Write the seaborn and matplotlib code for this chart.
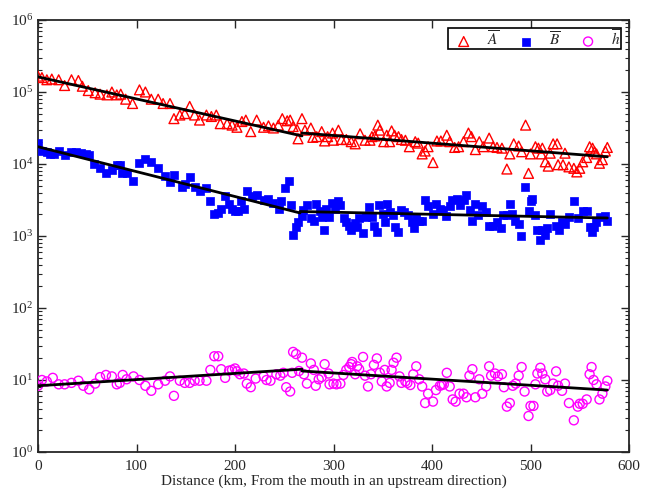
import numpy as np
import pandas as pd
import matplotlib
matplotlib.use("Agg")
import matplotlib.pyplot as plt
import seaborn as sns
from matplotlib.ticker import LogLocator, MultipleLocator, NullFormatter

# ---- data (distance in km, values given as log10) ----
A_km = [0,4,9,14,21,27,34,41,45,51,58,63,70,75,80,84,89,96,103,109,115,122,127,134,138,144,149,154,159,164,
        171,176,181,185,192,197,202,207,211,216,222,229,234,239,244,248,253,256,259,263,264,268,271,277,279,
        283,288,291,294,299,300,305,308,313,318,322,327,332,337,339,342,345,347,351,354,357,359,362,366,369,
        373,377,383,386,390,393,396,401,405,409,415,418,423,427,432,437,440,444,448,452,458,462,466,471,476,
        479,483,488,491,495,498,500,505,508,511,512,515,518,520,523,527,528,533,535,539,544,547,550,553,557,
        560,563,565,567,570,573,576,578]
A_log10 = [5.22,5.20,5.17,5.18,5.17,5.09,5.17,5.16,5.08,5.02,4.99,4.97,4.96,5.00,4.96,4.97,4.90,4.84,5.03,5.00,
           4.90,4.90,4.84,4.84,4.63,4.68,4.70,4.80,4.68,4.61,4.68,4.66,4.68,4.56,4.56,4.54,4.51,4.59,4.61,4.45,
           4.61,4.51,4.53,4.50,4.54,4.63,4.60,4.61,4.52,4.48,4.35,4.63,4.47,4.50,4.37,4.38,4.45,4.32,4.38,4.43,
           4.33,4.47,4.34,4.34,4.31,4.28,4.42,4.33,4.33,4.38,4.39,4.54,4.47,4.31,4.40,4.31,4.46,4.40,4.38,4.34,
           4.33,4.24,4.31,4.29,4.14,4.18,4.24,4.02,4.32,4.32,4.40,4.31,4.23,4.24,4.31,4.43,4.38,4.20,4.31,4.24,
           4.36,4.24,4.23,4.22,3.93,4.14,4.28,4.25,4.17,4.54,3.87,4.14,4.24,4.22,4.14,4.22,4.03,3.97,4.15,4.28,
           4.28,3.99,3.99,4.15,3.96,3.94,3.89,3.94,4.03,4.09,4.24,4.22,4.17,4.14,4.01,4.06,4.18,4.23]

B_km = [0,4,9,12,16,21,27,34,39,44,49,52,57,63,69,75,80,83,85,90,96,103,109,115,122,129,134,138,146,149,154,
        159,164,171,175,179,183,186,190,194,197,200,203,206,209,212,217,222,229,234,239,245,247,251,255,257,
        259,262,264,268,269,273,277,280,282,286,288,290,292,295,298,302,305,307,311,313,316,318,322,324,326,
        330,333,336,339,341,344,346,350,352,354,357,360,362,365,369,372,376,380,382,384,387,390,393,396,401,
        404,408,411,414,418,420,425,428,432,435,439,441,444,447,451,455,458,462,466,470,472,476,479,481,484,
        488,490,494,498,500,502,505,507,510,512,515,517,520,526,529,532,535,539,544,548,553,557,560,562,564,
        567,571,576,578]
B_log10 = [4.29,4.18,4.16,4.14,4.14,4.18,4.13,4.17,4.16,4.15,4.14,4.13,4.00,3.94,3.88,3.92,3.99,3.99,3.88,3.88,
           3.77,4.02,4.07,4.03,3.94,3.83,3.75,3.85,3.68,3.72,3.82,3.68,3.62,3.66,3.48,3.31,3.32,3.38,3.55,3.45,
           3.38,3.35,3.35,3.49,3.37,3.63,3.55,3.57,3.50,3.51,3.46,3.38,3.49,3.66,3.76,3.43,3.01,3.13,3.20,3.28,
           3.36,3.43,3.25,3.21,3.45,3.35,3.27,3.08,3.38,3.27,3.46,3.38,3.48,3.43,3.25,3.20,3.14,3.08,3.18,3.13,
           3.25,3.04,3.27,3.40,3.27,3.14,3.05,3.43,3.31,3.20,3.45,3.33,3.29,3.12,3.06,3.36,3.34,3.29,3.20,3.11,
           3.27,3.21,3.21,3.50,3.41,3.31,3.44,3.38,3.36,3.28,3.42,3.50,3.52,3.43,3.50,3.57,3.36,3.21,3.45,3.29,
           3.42,3.34,3.14,3.14,3.20,3.11,3.29,3.29,3.45,3.31,3.21,3.17,3.00,3.68,3.35,3.48,3.51,3.29,3.09,2.95,
           3.09,3.01,3.11,3.31,3.14,3.08,3.20,3.17,3.27,3.48,3.25,3.35,3.35,3.13,3.06,3.13,3.20,3.27,3.28,3.21]

h_km = [0,4,9,15,21,27,34,41,46,52,58,63,69,75,80,83,86,90,97,103,109,115,122,129,134,138,144,149,154,159,164,
        171,175,179,183,186,190,194,197,200,202,205,209,212,216,221,229,232,236,242,246,249,252,256,258,259,
        262,265,268,270,273,277,280,282,285,288,291,295,296,300,303,307,310,313,316,318,319,322,324,326,330,
        332,335,338,341,344,347,349,352,354,357,359,361,364,367,369,373,375,378,381,384,387,390,393,396,401,
        404,408,410,412,415,418,421,424,428,432,435,438,441,444,448,451,455,458,460,464,467,471,473,476,479,
        482,485,488,491,494,498,500,503,505,507,510,512,515,517,520,523,526,528,532,535,539,544,548,550,553,
        557,560,562,564,567,570,573,576,578]
h_log10 = [0.92,1.00,0.98,1.03,0.94,0.94,0.96,0.99,0.92,0.87,0.95,1.04,1.07,1.05,0.94,0.96,1.07,1.01,1.05,1.00,
           0.92,0.85,0.94,0.99,1.05,0.78,0.99,0.96,0.96,0.99,0.99,0.99,1.14,1.33,1.33,1.15,1.03,1.13,1.14,1.16,
           1.12,1.08,1.09,0.95,0.90,1.02,1.05,1.00,0.99,1.08,1.06,1.10,0.90,0.84,1.10,1.39,1.36,1.125,1.31,1.08,
           0.95,1.23,1.14,0.92,1.01,1.04,1.22,1.09,0.94,0.95,0.94,0.95,1.07,1.14,1.18,1.22,1.25,1.08,1.19,1.15,
           1.32,1.06,0.91,1.08,1.21,1.30,1.10,0.98,1.14,0.91,0.96,1.14,1.24,1.31,1.05,0.96,0.98,0.96,0.93,1.08,
           1.19,1.01,0.91,0.68,0.81,0.70,0.86,0.92,0.93,0.94,1.10,0.91,0.73,0.70,0.81,0.81,0.76,1.06,1.15,0.76,
           1.01,0.81,0.91,1.19,1.06,1.09,1.05,1.08,0.90,0.63,0.68,0.92,0.95,1.06,1.18,0.84,0.50,0.64,0.64,0.94,
           1.09,1.17,1.09,1.01,0.84,0.86,0.95,1.12,0.92,0.85,0.95,0.68,0.44,0.63,0.67,0.67,0.73,1.08,1.18,1.00,
           0.94,0.73,0.81,0.91,0.99]

# piecewise fitted trend lines (segment endpoints)
fit_A = [([0, 268], [5.21, 4.39]), ([268, 578], [4.43, 4.10])]
fit_B = [([0, 266], [4.24, 3.32]), ([266, 578], [3.34, 3.25])]
fit_h = [([0, 268], [0.92, 1.15]), ([268, 578], [1.125, 0.86])]

labels = [r"$\overline{A}$", r"$\overline{B}$", r"$\overline{h}$"]

# ---- build tables ----
dfA = pd.DataFrame({"km": A_km, "val": 10 ** np.array(A_log10)})
dfB = pd.DataFrame({"km": B_km, "val": 10 ** np.array(B_log10)})
dfh = pd.DataFrame({"km": h_km, "val": 10 ** np.array(h_log10)})

sns.set_style("ticks")
plt.rcParams["font.family"] = ["Liberation Serif", "DejaVu Serif"]
plt.rcParams["mathtext.fontset"] = "stix"

fig = plt.figure(figsize=(6.53, 4.91), dpi=100)
ax = fig.add_axes([38 / 653, 1 - 452 / 491, (629 - 38) / 653, (452 - 20) / 491])

sns.scatterplot(data=dfA, x="km", y="val", ax=ax, marker="^", s=50,
                facecolor="none", edgecolor="#ff0000", linewidth=1.0, label=labels[0], zorder=3)
sns.scatterplot(data=dfB, x="km", y="val", ax=ax, marker="s", s=26,
                color="#0000ff", edgecolor="#0000ff", linewidth=0.5, label=labels[1], zorder=3)
sns.scatterplot(data=dfh, x="km", y="val", ax=ax, marker="o", s=42,
                facecolor="none", edgecolor="#ff00ff", linewidth=1.0, label=labels[2], zorder=3)

for fits in (fit_A, fit_B, fit_h):
    for xs, ys in fits:
        sns.lineplot(x=xs, y=10 ** np.array(ys), ax=ax, color="black", linewidth=2.0,
                     legend=False, zorder=4)

ax.set_yscale("log")
ax.set_xlim(0, 600)
ax.set_ylim(1, 1e6)
ax.xaxis.set_major_locator(MultipleLocator(100))
ax.yaxis.set_major_locator(LogLocator(base=10, numticks=10))
ax.yaxis.set_minor_locator(LogLocator(base=10, subs=np.arange(2, 10), numticks=20))
ax.yaxis.set_minor_formatter(NullFormatter())
ax.tick_params(which="both", direction="in", top=True, right=True, labelsize=11)
ax.tick_params(axis="x", which="major", pad=6)
ax.tick_params(which="major", length=6, width=1.0)
ax.tick_params(which="minor", length=3, width=0.8)
for sp in ax.spines.values():
    sp.set_linewidth(1.3)

ax.set_xlabel("Distance (km, From the mouth in an upstream direction)", fontsize=11, labelpad=1)
ax.set_ylabel("")
ax.yaxis.label.set_visible(False)

leg = ax.legend(loc="upper right", ncol=3, frameon=True, fancybox=False, edgecolor="black",
                framealpha=1, fontsize=11, scatterpoints=1, borderpad=0.05, handlelength=2.0,
                handletextpad=0.5, columnspacing=0.8, borderaxespad=0.5)
leg.get_frame().set_linewidth(1.2)

fig.savefig("out.png", dpi=100)
